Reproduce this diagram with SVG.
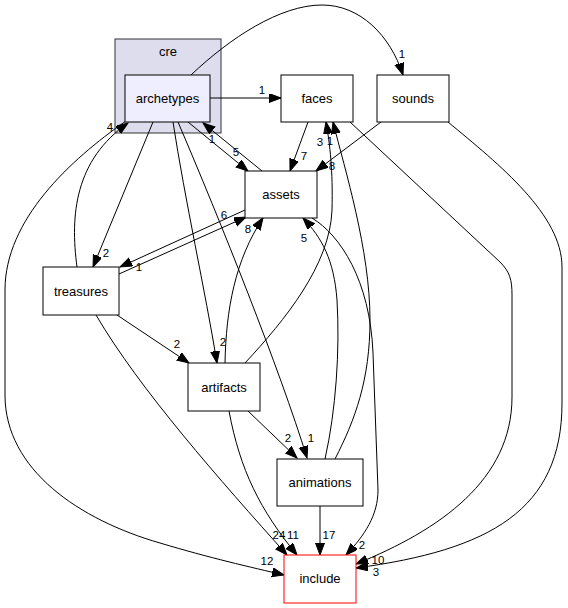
<svg xmlns="http://www.w3.org/2000/svg" width="568" height="608" viewBox="0 0 568 608">
<style>
.n{fill:#ffffff;stroke:#000000;stroke-width:1}
.t{font-family:"Liberation Sans",Arial,sans-serif;font-size:13px;text-anchor:middle;fill:#000}
.l{font-family:"Liberation Sans",Arial,sans-serif;font-size:11.5px;text-anchor:middle;fill:#000}
.e{fill:none;stroke:#000;stroke-width:1;marker-end:url(#a)}
</style>
<defs>
<marker id="a" markerUnits="userSpaceOnUse" markerWidth="13" markerHeight="10" refX="12" refY="4.5" orient="auto" viewBox="0 0 13 10">
<path d="M0,0 L12,4.5 L0,9 z" fill="#000" stroke="#000" stroke-width="1"/>
</marker>
</defs>
<rect width="568" height="608" fill="#fff"/>
<g id="cluster_cre">
<rect x="115" y="39" width="106" height="94" fill="#ddddee" stroke="#333"/>
<text class="t" x="168" y="56">cre</text>
</g>
<g id="edges">
<path class="e" d="M210,98 L281,98"/>
<path class="e" d="M191,75 C230,38 280,5 322,5 C360,5 390,35 403,75"/>
<path class="e" d="M188,122 L248,171"/>
<path class="e" d="M262,171 L203,123"/>
<path class="e" d="M153,122 L93,267"/>
<path class="e" d="M77,267 C70,215 75,160 128,123"/>
<path class="e" d="M126,121 C70,160 5,220 5,290 L5,395 C5,470 80,520 160,543 C210,558 250,567 284,575"/>
<path class="e" d="M173,122 C185,200 205,290 217,363"/>
<path class="e" d="M178,122 C220,220 280,370 307,458"/>
<path class="e" d="M308,122 L290,171"/>
<path class="e" d="M381,122 L316,171"/>
<path class="e" d="M245,363 C285,320 330,265 332,210 C333,170 330,145 326,122"/>
<path class="e" d="M335,459 C355,420 370,380 370,320 C370,250 345,170 333,122"/>
<path class="e" d="M119,274 L246,217"/>
<path class="e" d="M245,210 L120,267"/>
<path class="e" d="M225,363 C226,310 235,260 263,218"/>
<path class="e" d="M325,459 C336,410 340,350 337,300 C334,260 322,238 303,218"/>
<path class="e" d="M117,315 L189,363"/>
<path class="e" d="M248,411 L297,458"/>
<path class="e" d="M96,315 C140,390 220,480 287,555"/>
<path class="e" d="M229,411 C240,470 260,510 297,555"/>
<path class="e" d="M320,506 L320,555"/>
<path class="e" d="M312,218 C340,235 370,280 373,353 L378,490 C378,515 365,535 346,555"/>
<path class="e" d="M350,122 L500,262 C510,272 512,280 512,295 L512,397 C512,480 440,530 356,564"/>
<path class="e" d="M448,122 C500,165 562,215 562,267 L562,403 C562,510 490,550 356,568"/>
<text class="l" x="262" y="94">1</text>
<text class="l" x="402" y="58">1</text>
<text class="l" x="110" y="131">4</text>
<text class="l" x="212" y="143">1</text>
<text class="l" x="236" y="156">5</text>
<text class="l" x="304" y="160">7</text>
<text class="l" x="332" y="170">8</text>
<text class="l" x="320" y="146">3</text>
<text class="l" x="330" y="145">1</text>
<text class="l" x="224" y="219">6</text>
<text class="l" x="248" y="233">8</text>
<text class="l" x="106" y="257">2</text>
<text class="l" x="139" y="271">1</text>
<text class="l" x="304" y="242">5</text>
<text class="l" x="177" y="348">2</text>
<text class="l" x="223" y="346">2</text>
<text class="l" x="288" y="442">2</text>
<text class="l" x="311" y="442">1</text>
<text class="l" x="279" y="539">24</text>
<text class="l" x="293" y="539">11</text>
<text class="l" x="329" y="539">17</text>
<text class="l" x="362" y="549">2</text>
<text class="l" x="267" y="565">12</text>
<text class="l" x="378" y="564">10</text>
<text class="l" x="376" y="576">3</text>
</g>
<g id="archetypes">
<rect x="125" y="75" width="85" height="47" fill="#eeeeff" stroke="#000"/>
<text class="t" x="167.5" y="103">archetypes</text>
</g>
<g id="faces">
<rect class="n" x="281" y="75" width="72" height="47"/>
<text class="t" x="317" y="103">faces</text>
</g>
<g id="sounds">
<rect class="n" x="377" y="75" width="72" height="47"/>
<text class="t" x="413" y="103">sounds</text>
</g>
<g id="assets">
<rect class="n" x="245" y="171" width="72" height="47"/>
<text class="t" x="281" y="199">assets</text>
</g>
<g id="treasures">
<rect class="n" x="43" y="267" width="76" height="48"/>
<text class="t" x="81" y="296">treasures</text>
</g>
<g id="artifacts">
<rect class="n" x="188" y="363" width="72" height="48"/>
<text class="t" x="224" y="392">artifacts</text>
</g>
<g id="animations">
<rect class="n" x="277" y="459" width="86" height="47"/>
<text class="t" x="320" y="487">animations</text>
</g>
<g id="include">
<rect x="284" y="555" width="72" height="48" fill="#fff" stroke="#ff0000"/>
<text class="t" x="320" y="583">include</text>
</g>
</svg>
